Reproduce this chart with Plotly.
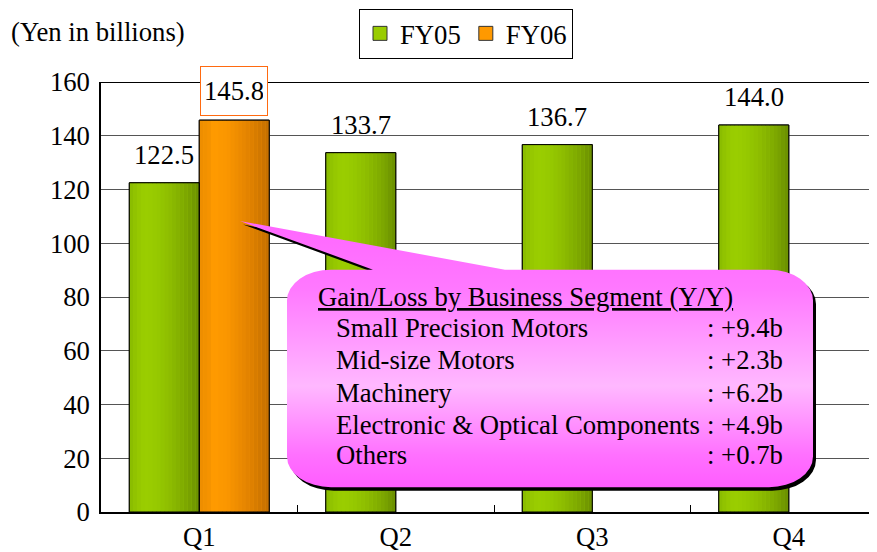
import base64
import plotly.graph_objects as go

# ---------------- data ----------------
quarters = ["Q1", "Q2", "Q3", "Q4"]
fy05 = [122.5, 133.7, 136.7, 144.0]
fy06 = [145.8, None, None, None]
segments = ["Small Precision Motors", "Mid-size Motors", "Machinery",
            "Electronic &amp; Optical Components", "Others"]
gains = ["+9.4b", "+2.3b", "+6.2b", "+4.9b", "+0.7b"]
y_ticks = [0, 20, 40, 60, 80, 100, 120, 140, 160]

FONT = "Liberation Serif, Times New Roman, serif"
FS = 26.7
OFF = 8                      # page body margin
PAGE_W, PAGE_H = 877, 552
FW, FH = PAGE_W - OFF, PAGE_H - OFF   # figure size
L, R, T, B = 101, 877, 82, 515        # plot area, page pixels
PW, PH = R - L, B - T

def xp(px):
    return (px - L) / PW

def yp(py):
    return (B - py) / PH

def hexrgb(h):
    h = h.lstrip("#")
    return tuple(int(h[i:i + 2], 16) for i in (0, 2, 4))

def interp(stops, t):
    for (t0, c0), (t1, c1) in zip(stops, stops[1:]):
        if t0 <= t <= t1:
            f = 0 if t1 == t0 else (t - t0) / (t1 - t0)
            a, b = hexrgb(c0), hexrgb(c1)
            return "rgb(%d,%d,%d)" % tuple(round(a[k] + (b[k] - a[k]) * f) for k in range(3))
    return stops[-1][1]

green_stops = [(0, "#88ba00"), (0.12, "#95c700"), (0.22, "#9bce00"), (0.38, "#97ca00"),
               (0.6, "#8cbb00"), (0.82, "#7ca600"), (1, "#6a8e00")]
orange_stops = [(0, "#ec8d00"), (0.14, "#f59300"), (0.2, "#ff9b00"), (0.4, "#fa9600"),
                (0.7, "#e38300"), (1, "#c26e00")]

xpos = list(range(len(quarters)))
bw = 0.356
N = 18

fig = go.Figure()

# base bars
fig.add_trace(go.Bar(x=xpos, y=fy05, width=bw, offset=-bw, showlegend=False, hoverinfo="skip",
                     marker=dict(color="#99cc00", line=dict(color="black", width=1))))
fig.add_trace(go.Bar(x=xpos, y=fy06, width=bw, offset=0, showlegend=False, hoverinfo="skip",
                     marker=dict(color="#ff9900", line=dict(color="black", width=1))))
# gradient slices
for i in range(N):
    t = (i + 0.5) / N
    fig.add_trace(go.Bar(x=xpos, y=fy05, width=bw / N * 1.02, offset=-bw + i * bw / N,
                         marker=dict(color=interp(green_stops, t), line=dict(width=0)),
                         showlegend=False, hoverinfo="skip"))
    fig.add_trace(go.Bar(x=xpos, y=fy06, width=bw / N * 1.02, offset=i * bw / N,
                         marker=dict(color=interp(orange_stops, t), line=dict(width=0)),
                         showlegend=False, hoverinfo="skip"))
# outlines
fig.add_trace(go.Bar(x=xpos, y=fy05, width=bw, offset=-bw, showlegend=False, hoverinfo="skip",
                     marker=dict(color="rgba(0,0,0,0)", line=dict(color="black", width=1))))
fig.add_trace(go.Bar(x=xpos, y=fy06, width=bw, offset=0, showlegend=False, hoverinfo="skip",
                     marker=dict(color="rgba(0,0,0,0)", line=dict(color="black", width=1))))
# legend entries
fig.add_trace(go.Scatter(x=[None], y=[None], mode="markers", name="FY05",
                         marker=dict(symbol="square", size=14, color="#99cc00",
                                     line=dict(color="#333333", width=1))))
fig.add_trace(go.Scatter(x=[None], y=[None], mode="markers", name="FY06",
                         marker=dict(symbol="square", size=14, color="#ff9900",
                                     line=dict(color="#333333", width=1))))

annotations = []
# value labels
for i, v in enumerate(fy05):
    annotations.append(dict(x=i - bw / 2, y=v, xref="x", yref="y", text="%.1f" % v,
                            showarrow=False, yshift=28, font=dict(size=FS, color="black", family=FONT)))
for i, v in enumerate(fy06):
    if v is None:
        continue
    annotations.append(dict(x=i + bw / 2, y=v, xref="x", yref="y", text="%.1f" % v,
                            showarrow=False, yshift=29, bordercolor="#ff6a10", borderwidth=1,
                            borderpad=4, height=40, width=58, bgcolor="white",
                            font=dict(size=FS, color="black", family=FONT)))

# unit label
annotations.append(dict(x=xp(9), y=yp(32), xref="paper", yref="paper", text="(Yen in billions)",
                        xanchor="left", yanchor="middle", showarrow=False,
                        font=dict(size=FS, color="black", family=FONT)))

# callout text
annotations.append(dict(x=xp(316), y=yp(298), xref="paper", yref="paper",
                        text="<u>Gain/Loss by Business Segment (Y/Y)</u>",
                        xanchor="left", yanchor="middle", showarrow=False,
                        font=dict(size=FS, color="black", family=FONT)))
row_y = [330, 362, 395, 427, 458]
for s, g, ry in zip(segments, gains, row_y):
    annotations.append(dict(x=xp(334), y=yp(ry), xref="paper", yref="paper", text=s,
                            xanchor="left", yanchor="middle", showarrow=False,
                            font=dict(size=FS, color="black", family=FONT)))
    annotations.append(dict(x=xp(785), y=yp(ry), xref="paper", yref="paper", text=": " + g,
                            xanchor="right", yanchor="middle", showarrow=False,
                            font=dict(size=FS, color="black", family=FONT)))

# callout balloon (gradient) as an SVG image, drawn in page pixels
bl, bt, br, bb, rx, ry_ = 287, 271, 813, 490, 44, 31
path = (f"M 240 222 L 505 {bt} L {br - rx} {bt} A {rx} {ry_} 0 0 1 {br} {bt + ry_} "
        f"L {br} {bb - ry_} A {rx} {ry_} 0 0 1 {br - rx} {bb} L {bl + rx} {bb} "
        f"A {rx} {ry_} 0 0 1 {bl} {bb - ry_} L {bl} {bt + ry_} A {rx} {ry_} 0 0 1 {bl + rx} {bt} "
        f"L 373 {bt} Z")
svg = f'''<svg xmlns="http://www.w3.org/2000/svg" width="{FW}" height="{FH}" viewBox="{OFF} {OFF} {FW} {FH}">
<defs><linearGradient id="g" x1="0" y1="0" x2="0" y2="1">
<stop offset="0" stop-color="#ff66ff"/>
<stop offset="0.25" stop-color="#ff78ff"/>
<stop offset="0.62" stop-color="#ffb8ff"/>
<stop offset="0.88" stop-color="#ff70ff"/>
<stop offset="1" stop-color="#ff5cff"/>
</linearGradient></defs>
<path d="{path}" transform="translate(3,3.5)" fill="#000"/>
<path d="{path}" fill="url(#g)"/>
</svg>'''
src = "data:image/svg+xml;base64," + base64.b64encode(svg.encode()).decode()

fig.update_layout(
    width=FW, height=FH,
    margin=dict(l=L - OFF, r=PAGE_W - R, t=T - OFF, b=PAGE_H - B, pad=0),
    paper_bgcolor="white", plot_bgcolor="white",
    barmode="overlay",
    font=dict(family=FONT, size=FS, color="black"),
    showlegend=True,
    legend=dict(orientation="h", x=xp(466), xanchor="center", y=yp(8), yanchor="top",
                bordercolor="black", borderwidth=1, bgcolor="white",
                font=dict(size=FS, family=FONT, color="black"),
                itemwidth=30, tracegroupgap=0, traceorder="normal"),
    annotations=annotations,
    images=[dict(source=src, xref="paper", yref="paper", x=xp(OFF), y=yp(OFF),
                 sizex=FW / PW, sizey=FH / PH, xanchor="left", yanchor="top",
                 sizing="stretch", layer="above")],
    shapes=[dict(type="line", xref="paper", yref="y", x0=0, x1=1, y0=160, y1=160,
                 line=dict(color="black", width=2), layer="above")],
)
fig.update_xaxes(range=[-0.5, 3.449], tickvals=xpos, ticktext=quarters, ticks="",
                 showgrid=False, showline=True, linecolor="black", linewidth=2,
                 zeroline=False, tickfont=dict(size=FS, family=FONT, color="black"),
                 minor=dict(tickvals=[0.5, 1.5, 2.5], ticks="inside", ticklen=7,
                            tickcolor="black", tickwidth=1, showgrid=False))
fig.update_yaxes(range=[0, 160], tickvals=y_ticks, ticks="", ticklabelstandoff=4,
                 showgrid=True, gridcolor="#555555", gridwidth=1,
                 showline=True, linecolor="black", linewidth=1.5, zeroline=False,
                 tickfont=dict(size=FS, family=FONT, color="black"))

fig.write_html("out.html")
